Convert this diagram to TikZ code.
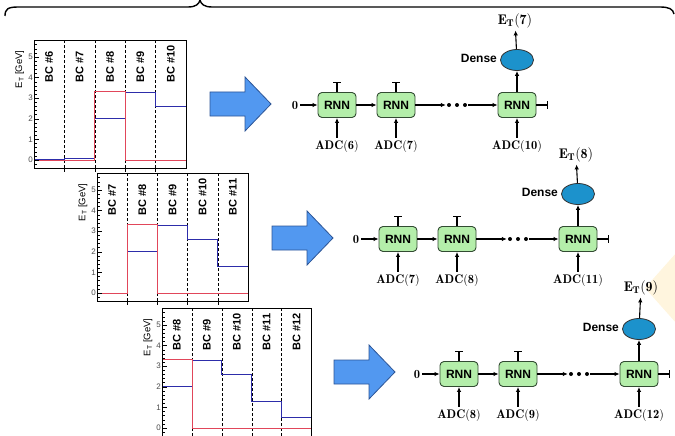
\documentclass[tikz,border=0pt]{standalone}
\usepackage{fontspec}
\newfontfamily\arialfont{Liberation Sans}
\usetikzlibrary{arrows.meta,positioning,calc,shapes.geometric}
\definecolor{RNN-GREEN}{RGB}{180,238,170}
\definecolor{RNN-EDGE}{RGB}{50,75,50}
\definecolor{DENSE-BLUE}{RGB}{28,146,204}
\definecolor{BLOCK-BLUE}{RGB}{82,152,240}
\definecolor{BLOCK-EDGE}{RGB}{45,85,150}
\definecolor{HIST-BLUE}{RGB}{45,45,170}
\definecolor{HIST-RED}{RGB}{225,70,90}
\definecolor{LOGO-ORANGE}{RGB}{255,245,222}

\tikzset{
  rnn/.style={draw=RNN-EDGE, fill=RNN-GREEN, line width=0.9pt, rounded corners=4pt,
    minimum width=38pt, minimum height=25pt, inner sep=0pt,
    font=\arialfont\bfseries\fontsize{12}{12}\selectfont},
  dense/.style={ellipse, draw=black!80, fill=DENSE-BLUE, line width=0.8pt,
    minimum width=33pt, minimum height=21pt, inner sep=0pt},
  densetext/.style={font=\arialfont\bfseries\fontsize{12}{12}\selectfont, inner sep=1pt},
  mathlabel/.style={font=\fontsize{12.5}{14}\selectfont, inner sep=2pt},
  outlabel/.style={font=\fontsize{14}{16}\selectfont, inner sep=2pt},
  flow/.style={-{Latex[length=5pt,width=4.5pt]}, line width=1.1pt},
  cut/.style={-{Bar[width=8pt]}, line width=1.1pt},
  blockarrow/.style={fill=BLOCK-BLUE, draw=BLOCK-EDGE, line width=0.8pt},
  bclabel/.style={rotate=90, anchor=west, inner sep=0pt,
    font=\arialfont\bfseries\fontsize{11}{11}\selectfont},
  ticklabel/.style={anchor=east, inner sep=1pt, text=black!70,
    font=\arialfont\fontsize{8}{8}\selectfont},
  axislabel/.style={rotate=90, inner sep=0pt, font=\arialfont\fontsize{9.5}{10}\selectfont},
}

\begin{document}
\begin{tikzpicture}[x=1pt, y=-1pt]
  \useasboundingbox (0,0) rectangle (675,436);

  % faint logo in the background
  \fill[LOGO-ORANGE] (645,288) -- (685,243) -- (725,288) -- (685,333) -- cycle;

  % brace over everything
  \draw[line width=1.4pt] (5,16) .. controls (5,9) and (8,7) .. (18,7) -- (188,7)
    .. controls (196,7) and (199,4) .. (200,0) .. controls (201,4) and (204,7) .. (212,7)
    -- (660,7) .. controls (669,7) and (673,9) .. (674,14);

  % Pulse BC #6 -- #10
  \begin{scope}[shift={(34,160)}, x=30.4pt, y=20.6pt]
    \foreach \b in {1,...,4}
      \draw[densely dashed, line width=0.4pt] (\b,-0.39) -- (\b,5.83);
    \draw[HIST-BLUE, line width=0.7pt] (0,0.03) -- (1,0.03) -- (1,0.08) -- (2,0.08) -- (2,2) -- (3,2)
      -- (3,3.3) -- (4,3.3) -- (4,2.6) -- (5,2.6);
    \draw[HIST-RED, line width=0.7pt] (0,0) -- (2,0) -- (2,3.35) -- (3,3.35) -- (3,0) -- (5,0);
    \draw[line width=0.6pt] (0,-0.39) rectangle (5,5.83);
    \foreach \m in {-1,...,29} \draw[line width=0.4pt] (0,0.2*\m) -- ++(2.5pt,0);
    \foreach \v in {0,...,5} {
      \draw[line width=0.5pt] (0,\v) -- ++(5pt,0);
      \node[ticklabel] at (0,\v) {\v};
    }
    \foreach \b in {1,...,4} \draw[line width=0.5pt] (\b,-0.39) -- ++(0,-4pt);
    \node[axislabel] at (-0.47,4.4) {E\textsubscript{T} [GeV]};
    \node[bclabel] at (0.5,3.75) {BC \#6};
    \node[bclabel] at (1.5,3.75) {BC \#7};
    \node[bclabel] at (2.5,3.75) {BC \#8};
    \node[bclabel] at (3.5,3.75) {BC \#9};
    \node[bclabel] at (4.5,3.75) {BC \#10};
  \end{scope}

  % Pulse BC #7 -- #11
  \begin{scope}[shift={(97,293)}, x=30.2pt, y=20.6pt]
    \foreach \b in {1,...,4}
      \draw[densely dashed, line width=0.4pt] (\b,-0.39) -- (\b,5.83);
    \draw[HIST-BLUE, line width=0.7pt] (0,0) -- (1,0) -- (1,2) -- (2,2) -- (2,3.3) -- (3,3.3)
      -- (3,2.6) -- (4,2.6) -- (4,1.3) -- (5,1.3);
    \draw[HIST-RED, line width=0.7pt] (0,0) -- (1,0) -- (1,3.35) -- (2,3.35) -- (2,0) -- (5,0);
    \draw[line width=0.6pt] (0,-0.39) rectangle (5,5.83);
    \foreach \m in {-1,...,29} \draw[line width=0.4pt] (0,0.2*\m) -- ++(2.5pt,0);
    \foreach \v in {0,...,5} {
      \draw[line width=0.5pt] (0,\v) -- ++(5pt,0);
      \node[ticklabel] at (0,\v) {\v};
    }
    \foreach \b in {1,...,4} \draw[line width=0.5pt] (\b,-0.39) -- ++(0,-4pt);
    \node[axislabel] at (-0.47,4.4) {E\textsubscript{T} [GeV]};
    \node[bclabel] at (0.5,3.75) {BC \#7};
    \node[bclabel] at (1.5,3.75) {BC \#8};
    \node[bclabel] at (2.5,3.75) {BC \#9};
    \node[bclabel] at (3.5,3.75) {BC \#10};
    \node[bclabel] at (4.5,3.75) {BC \#11};
  \end{scope}

  % Pulse BC #8 -- #12
  \begin{scope}[shift={(162,428)}, x=29.9pt, y=20.6pt]
    \foreach \b in {1,...,4}
      \draw[densely dashed, line width=0.4pt] (\b,-0.39) -- (\b,5.83);
    \draw[HIST-BLUE, line width=0.7pt] (0,2) -- (1,2) -- (1,3.28) -- (2,3.28) -- (2,2.6) -- (3,2.6)
      -- (3,1.3) -- (4,1.3) -- (4,0.5) -- (5,0.5);
    \draw[HIST-RED, line width=0.7pt] (0,3.35) -- (1,3.35) -- (1,0) -- (5,0);
    \draw[line width=0.6pt] (0,-0.39) rectangle (5,5.83);
    \foreach \m in {-1,...,29} \draw[line width=0.4pt] (0,0.2*\m) -- ++(2.5pt,0);
    \foreach \v in {0,...,5} {
      \draw[line width=0.5pt] (0,\v) -- ++(5pt,0);
      \node[ticklabel] at (0,\v) {\v};
    }
    \node[axislabel] at (-0.47,4.4) {E\textsubscript{T} [GeV]};
    \node[bclabel] at (0.5,3.75) {BC \#8};
    \node[bclabel] at (1.5,3.75) {BC \#9};
    \node[bclabel] at (2.5,3.75) {BC \#10};
    \node[bclabel] at (3.5,3.75) {BC \#11};
    \node[bclabel] at (4.5,3.75) {BC \#12};
  \end{scope}

  % big arrows
  \draw[blockarrow] (210,92) -- (245,92) -- (245,77) -- (271,104) -- (245,131) -- (245,116) -- (210,116) -- cycle;
  \draw[blockarrow] (272,226) -- (307,226) -- (307,211) -- (333,238) -- (307,265) -- (307,250) -- (272,250) -- cycle;
  \draw[blockarrow] (334,360) -- (369,360) -- (369,345) -- (395,372) -- (369,399) -- (369,384) -- (334,384) -- cycle;

  % RNN chain for E_T(7)
  \node[mathlabel] (a0) at (295,105) {$\mathbf{0}$};
  \node[rnn] (a1) at (337,105) {RNN};
  \node[rnn] (a2) at (396,105) {RNN};
  \node[minimum width=22pt] (adots) at (457,105) {};
  \node[rnn] (a3) at (517,105) {RNN};
  \node[dense] (ad) at (517,60) {};
  \node[densetext, left=2pt of ad, yshift=2pt] (adl) {Dense};
  \node[outlabel] (aout) at (515,21) {$\mathbf{E_T(7)}$};
  \node[mathlabel] (ain1) at (337,146) {$\mathbf{ADC(6)}$};
  \node[mathlabel] (ain2) at (396,146) {$\mathbf{ADC(7)}$};
  \node[mathlabel] (ain3) at (517,146) {$\mathbf{ADC(10)}$};
  \coordinate (ah1) at (337,82);
  \coordinate (ah2) at (396,82);
  \coordinate (ah3) at (548,105);
  \fill ([xshift=-8pt]adots.center) circle (2pt) (adots.center) circle (2pt) ([xshift=8pt]adots.center) circle (2pt);
  \draw[flow] (a0) -- (a1);
  \draw[flow] (a1) -- (a2);
  \draw[flow] (a2) -- (adots);
  \draw[flow] (adots) -- (a3);
  \draw[flow] (ain1) -- (a1);
  \draw[flow] (ain2) -- (a2);
  \draw[flow] (ain3) -- (a3);
  \draw[flow] (a3) -- (ad);
  \draw[flow] (ad) -- (aout);
  \draw[cut] (a1) -- (ah1);
  \draw[cut] (a2) -- (ah2);
  \draw[cut] (a3) -- (ah3);

  % RNN chain for E_T(8)
  \node[mathlabel] (b0) at (356,239) {$\mathbf{0}$};
  \node[rnn] (b1) at (398,239) {RNN};
  \node[rnn] (b2) at (457,239) {RNN};
  \node[minimum width=22pt] (bdots) at (518,239) {};
  \node[rnn] (b3) at (578,239) {RNN};
  \node[dense] (bd) at (578,194) {};
  \node[densetext, left=2pt of bd, yshift=2pt] (bdl) {Dense};
  \node[outlabel] (bout) at (576,155) {$\mathbf{E_T(8)}$};
  \node[mathlabel] (bin1) at (398,280) {$\mathbf{ADC(7)}$};
  \node[mathlabel] (bin2) at (457,280) {$\mathbf{ADC(8)}$};
  \node[mathlabel] (bin3) at (578,280) {$\mathbf{ADC(11)}$};
  \coordinate (bh1) at (398,216);
  \coordinate (bh2) at (457,216);
  \coordinate (bh3) at (609,239);
  \fill ([xshift=-8pt]bdots.center) circle (2pt) (bdots.center) circle (2pt) ([xshift=8pt]bdots.center) circle (2pt);
  \draw[flow] (b0) -- (b1);
  \draw[flow] (b1) -- (b2);
  \draw[flow] (b2) -- (bdots);
  \draw[flow] (bdots) -- (b3);
  \draw[flow] (bin1) -- (b1);
  \draw[flow] (bin2) -- (b2);
  \draw[flow] (bin3) -- (b3);
  \draw[flow] (b3) -- (bd);
  \draw[flow] (bd) -- (bout);
  \draw[cut] (b1) -- (bh1);
  \draw[cut] (b2) -- (bh2);
  \draw[cut] (b3) -- (bh3);

  % RNN chain for E_T(9)
  \node[mathlabel] (c0) at (417,374) {$\mathbf{0}$};
  \node[rnn] (c1) at (459,374) {RNN};
  \node[rnn] (c2) at (518,374) {RNN};
  \node[minimum width=22pt] (cdots) at (579,374) {};
  \node[rnn] (c3) at (639,374) {RNN};
  \node[dense] (cd) at (639,329) {};
  \node[densetext, left=2pt of cd, yshift=2pt] (cdl) {Dense};
  \node[outlabel] (cout) at (641,288) {$\mathbf{E_T(9)}$};
  \node[mathlabel] (cin1) at (459,415) {$\mathbf{ADC(8)}$};
  \node[mathlabel] (cin2) at (518,415) {$\mathbf{ADC(9)}$};
  \node[mathlabel] (cin3) at (639,415) {$\mathbf{ADC(12)}$};
  \coordinate (ch1) at (459,351);
  \coordinate (ch2) at (518,351);
  \coordinate (ch3) at (670,374);
  \fill ([xshift=-8pt]cdots.center) circle (2pt) (cdots.center) circle (2pt) ([xshift=8pt]cdots.center) circle (2pt);
  \draw[flow] (c0) -- (c1);
  \draw[flow] (c1) -- (c2);
  \draw[flow] (c2) -- (cdots);
  \draw[flow] (cdots) -- (c3);
  \draw[flow] (cin1) -- (c1);
  \draw[flow] (cin2) -- (c2);
  \draw[flow] (cin3) -- (c3);
  \draw[flow] (c3) -- (cd);
  \draw[flow] (cd) -- (cout);
  \draw[cut] (c1) -- (ch1);
  \draw[cut] (c2) -- (ch2);
  \draw[cut] (c3) -- (ch3);
\end{tikzpicture}
\end{document}
